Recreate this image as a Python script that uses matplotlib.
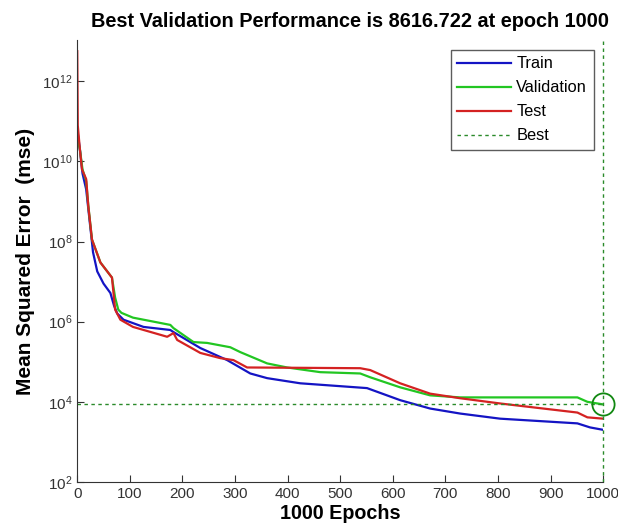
import matplotlib
matplotlib.use("Agg")
import matplotlib.pyplot as plt
from matplotlib.ticker import FixedLocator, NullLocator

plt.rcParams["font.family"] = ["Liberation Sans", "DejaVu Sans"]

best_epoch = 1000
best_perf = 8616.722

train_epochs = [0, 5, 10, 17, 22, 27, 30, 38, 50, 63, 70, 76, 88, 126, 177, 183, 234, 285, 329,
                361, 424, 551, 614, 671, 728, 804, 951, 975, 1000]
train_mse = [6.3e10, 2.0e10, 5.0e9, 2.0e9, 5.0e8, 1.26e8, 5.4e7, 1.8e7, 8.9e6, 5.2e6, 2.5e6, 1.6e6,
             1.12e6, 7.4e5, 6.2e5, 5.5e5, 2.2e5, 1.1e5, 5.1e4, 3.9e4, 2.9e4, 2.2e4, 1.1e4, 6.8e3,
             5.1e3, 3.8e3, 2.9e3, 2.3e3, 2.0e3]

val_epochs = [0, 5, 10, 17, 21, 28, 44, 66, 72, 78, 84, 106, 177, 183, 221, 247, 291, 310, 361,
              399, 462, 538, 557, 614, 671, 728, 951, 970, 1000]
val_mse = [4.0e10, 2.0e10, 6.3e9, 3.2e9, 7.9e8, 1.12e8, 3.0e7, 1.26e7, 4.0e6, 2.0e6, 1.66e6, 1.26e6,
           8.3e5, 6.9e5, 3.1e5, 2.95e5, 2.3e5, 1.74e5, 9.1e4, 7.2e4, 5.5e4, 5.1e4, 4.1e4, 2.3e4,
           1.45e4, 1.29e4, 1.29e4, 1.0e4, 8616.722]

test_epochs = [0, 1, 5, 9, 17, 21, 28, 44, 66, 72, 82, 106, 171, 183, 190, 234, 272, 297, 323,
               538, 557, 614, 671, 728, 804, 951, 970, 1000]
test_mse = [5.6e12, 7.9e10, 2.0e10, 6.3e9, 3.6e9, 7.6e8, 1.12e8, 3.0e7, 1.26e7, 2.0e6, 1.12e6, 7.4e5,
            4.2e5, 5.2e5, 3.5e5, 1.66e5, 1.23e5, 1.1e5, 7.2e4, 6.9e4, 6.2e4, 2.9e4, 1.6e4, 1.23e4,
            9.1e3, 5.4e3, 4.1e3, 3.8e3]

y_ticks = [1e2, 1e4, 1e6, 1e8, 1e10, 1e12]
x_ticks = [0, 100, 200, 300, 400, 500, 600, 700, 800, 900, 1000]

c_train = "#1414c4"
c_val = "#22c622"
c_test = "#d42222"
c_best = "#2a8a2a"

fig = plt.figure(figsize=(6.18, 5.30), dpi=100)
ax = fig.add_axes([0.125, 0.0906, 0.851, 0.834])

ax.plot(train_epochs, train_mse, color=c_train, lw=1.6, label="Train")
ax.plot(val_epochs, val_mse, color=c_val, lw=1.6, label="Validation")
ax.plot(test_epochs, test_mse, color=c_test, lw=1.6, label="Test")
ax.axhline(best_perf, color=c_best, lw=1.0, ls=(0, (2.5, 2.5)), label="Best")
vl = ax.axvline(best_epoch, color=c_best, lw=1.0, ls=(0, (2.5, 2.5)))
vl.set_clip_on(False)
ax.plot([best_epoch], [best_perf], marker="o", markersize=16, markerfacecolor="none",
        markeredgecolor="#118811", markeredgewidth=1.3, clip_on=False, zorder=5)

ax.set_yscale("log")
ax.set_xlim(0, 1000)
ax.set_ylim(1e2, 1.07e13)
ax.yaxis.set_major_locator(FixedLocator(y_ticks))
ax.yaxis.set_minor_locator(NullLocator())
ax.set_xticks(x_ticks)

ax.spines["top"].set_visible(False)
ax.spines["right"].set_visible(False)
ax.spines["left"].set_color("#333333")
ax.spines["bottom"].set_color("#333333")
ax.tick_params(direction="in", length=5, colors="#333333", labelsize=11, labelcolor="#333333")

ax.set_title("Best Validation Performance is 8616.722 at epoch 1000", fontsize=14.3,
             fontweight="bold", pad=9, x=0.518)
ax.set_xlabel("1000 Epochs", fontsize=14.2, fontweight="bold", labelpad=2)
ax.set_ylabel("Mean Squared Error  (mse)", fontsize=15, fontweight="bold", labelpad=5)

leg = ax.legend(loc="upper right", bbox_to_anchor=(0.988, 0.985), fontsize=11.8, frameon=True,
                fancybox=False, edgecolor="#333333", handlelength=3.3, borderpad=0.4,
                labelspacing=0.55, handletextpad=0.3, borderaxespad=0.2)
leg.get_frame().set_linewidth(1.0)

fig.savefig("out.png", dpi=100)
